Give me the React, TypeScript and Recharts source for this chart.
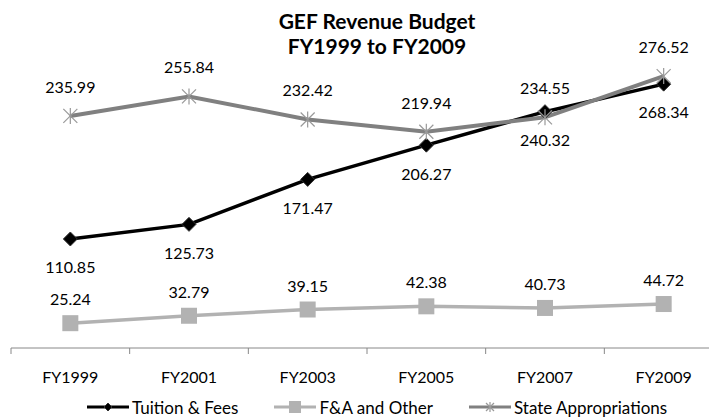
import React from 'react';
import { LineChart, Line, XAxis, YAxis, Legend, LabelList } from 'recharts';

const years = ['FY1999', 'FY2001', 'FY2003', 'FY2005', 'FY2007', 'FY2009'];
const tuitionFees = [110.85, 125.73, 171.47, 206.27, 240.32, 268.34];
const faOther = [25.24, 32.79, 39.15, 42.38, 40.73, 44.72];
const stateApprop = [235.99, 255.84, 232.42, 219.94, 234.55, 276.52];

const FONT = 'Lato, "Open Sans", sans-serif';
const CHART_W = 715;
const CHART_H = 411;
const LEFT = 3;
const BAND = (CHART_W - LEFT) / years.length;

const chartData = years.map((year, i) => ({
  year,
  tuition: tuitionFees[i],
  fa: faOther[i],
  state: stateApprop[i],
}));

const Diamond = ({ cx, cy, size = 7 }: any) => {
  if (cx == null || cy == null) return null;
  return (
    <path
      d={`M${cx},${cy - size} L${cx + size},${cy} L${cx},${cy + size} L${cx - size},${cy} Z`}
      fill="#000"
      stroke="#333"
      strokeWidth={1}
    />
  );
};

const Square = ({ cx, cy, size = 8 }: any) => {
  if (cx == null || cy == null) return null;
  return <rect x={cx - size} y={cy - size} width={size * 2} height={size * 2} fill="#b2b2b2" />;
};

const Star = ({ cx, cy, size = 7 }: any) => {
  if (cx == null || cy == null) return null;
  return (
    <g stroke="#999" strokeWidth={1.2}>
      <line x1={cx - size} y1={cy - size} x2={cx + size} y2={cy + size} />
      <line x1={cx - size} y1={cy + size} x2={cx + size} y2={cy - size} />
      <line x1={cx} y1={cy - size - 1} x2={cx} y2={cy + size + 1} />
    </g>
  );
};

const YearTick = ({ x, y, payload, index }: any) => {
  return (
    <g>
      <line x1={x - BAND / 2} y1={y - 8} x2={x - BAND / 2} y2={y - 2} stroke="#888" />
      {index === years.length - 1 && (
        <line x1={x + BAND / 2} y1={y - 8} x2={x + BAND / 2} y2={y - 2} stroke="#888" />
      )}
      <text x={x} y={y + 27} textAnchor="middle" fontSize={16} fontFamily={FONT} fill="#000">
        {payload.value}
      </text>
    </g>
  );
};

const legendItems = [
  { name: 'Tuition & Fees', color: '#000', marker: 'diamond' },
  { name: 'F&A and Other', color: '#b2b2b2', marker: 'square' },
  { name: 'State Appropriations', color: '#808080', marker: 'star' },
];

const CustomLegend = () => (
  <div
    style={{
      display: 'flex',
      justifyContent: 'flex-start',
      gap: 36,
      fontFamily: FONT,
      fontSize: 17,
      paddingLeft: 76,
      height: 22,
      alignItems: 'center',
      marginTop: 0,
    }}
  >
    {legendItems.map(item => (
      <div key={item.name} style={{ display: 'flex', alignItems: 'center' }}>
        <svg width={42} height={16}>
          <line x1={0} y1={8} x2={42} y2={8} stroke={item.color} strokeWidth={3} />
          {item.marker === 'diamond' && <Diamond cx={21} cy={8} size={4} />}
          {item.marker === 'square' && <Square cx={21} cy={8} size={6} />}
          {item.marker === 'star' && <Star cx={21} cy={8} size={4} />}
        </svg>
        <span style={{ marginLeft: 3 }}>{item.name}</span>
      </div>
    ))}
  </div>
);

export default function App() {
  const labelStyle = { fontSize: 16, fontFamily: FONT, fill: '#000' };
  const fmt = (v: any) => Number(v).toFixed(2);
  return (
    <div style={{ position: 'relative', width: 709, height: 411, overflow: 'hidden' }}>
      <div
        style={{
          position: 'absolute',
          left: 0,
          top: 0,
          width: 738,
          textAlign: 'center',
          fontFamily: FONT,
          fontWeight: 'bold',
          fontSize: 21,
          lineHeight: '25px',
          zIndex: 1,
        }}
      >
        GEF Revenue Budget
        <br />
        FY1999 to FY2009
      </div>
      <LineChart
        width={CHART_W}
        height={CHART_H}
        data={chartData}
        margin={{ top: 45, right: 0, bottom: 0, left: LEFT }}
      >
        <XAxis
          dataKey="year"
          stroke="#888"
          tickLine={false}
          tick={<YearTick />}
          height={48}
          interval={0}
          padding={{ left: BAND / 2, right: BAND / 2 }}
        />
        <YAxis hide domain={[0, 300]} />
        <Legend verticalAlign="bottom" content={<CustomLegend />} wrapperStyle={{ height: 23 }} />
        <Line
          dataKey="tuition"
          name="Tuition & Fees"
          stroke="#000"
          strokeWidth={3.5}
          dot={<Diamond />}
          activeDot={false}
          isAnimationActive={false}
        >
          <LabelList dataKey="tuition" position="bottom" offset={23} style={labelStyle} formatter={fmt} />
        </Line>
        <Line
          dataKey="fa"
          name="F&A and Other"
          stroke="#b2b2b2"
          strokeWidth={3.5}
          dot={<Square />}
          activeDot={false}
          isAnimationActive={false}
        >
          <LabelList dataKey="fa" position="top" offset={18} style={labelStyle} formatter={fmt} />
        </Line>
        <Line
          dataKey="state"
          name="State Appropriations"
          stroke="#808080"
          strokeWidth={4}
          dot={<Star />}
          activeDot={false}
          isAnimationActive={false}
        >
          <LabelList dataKey="state" position="top" offset={23} style={labelStyle} formatter={fmt} />
        </Line>
      </LineChart>
    </div>
  );
}
